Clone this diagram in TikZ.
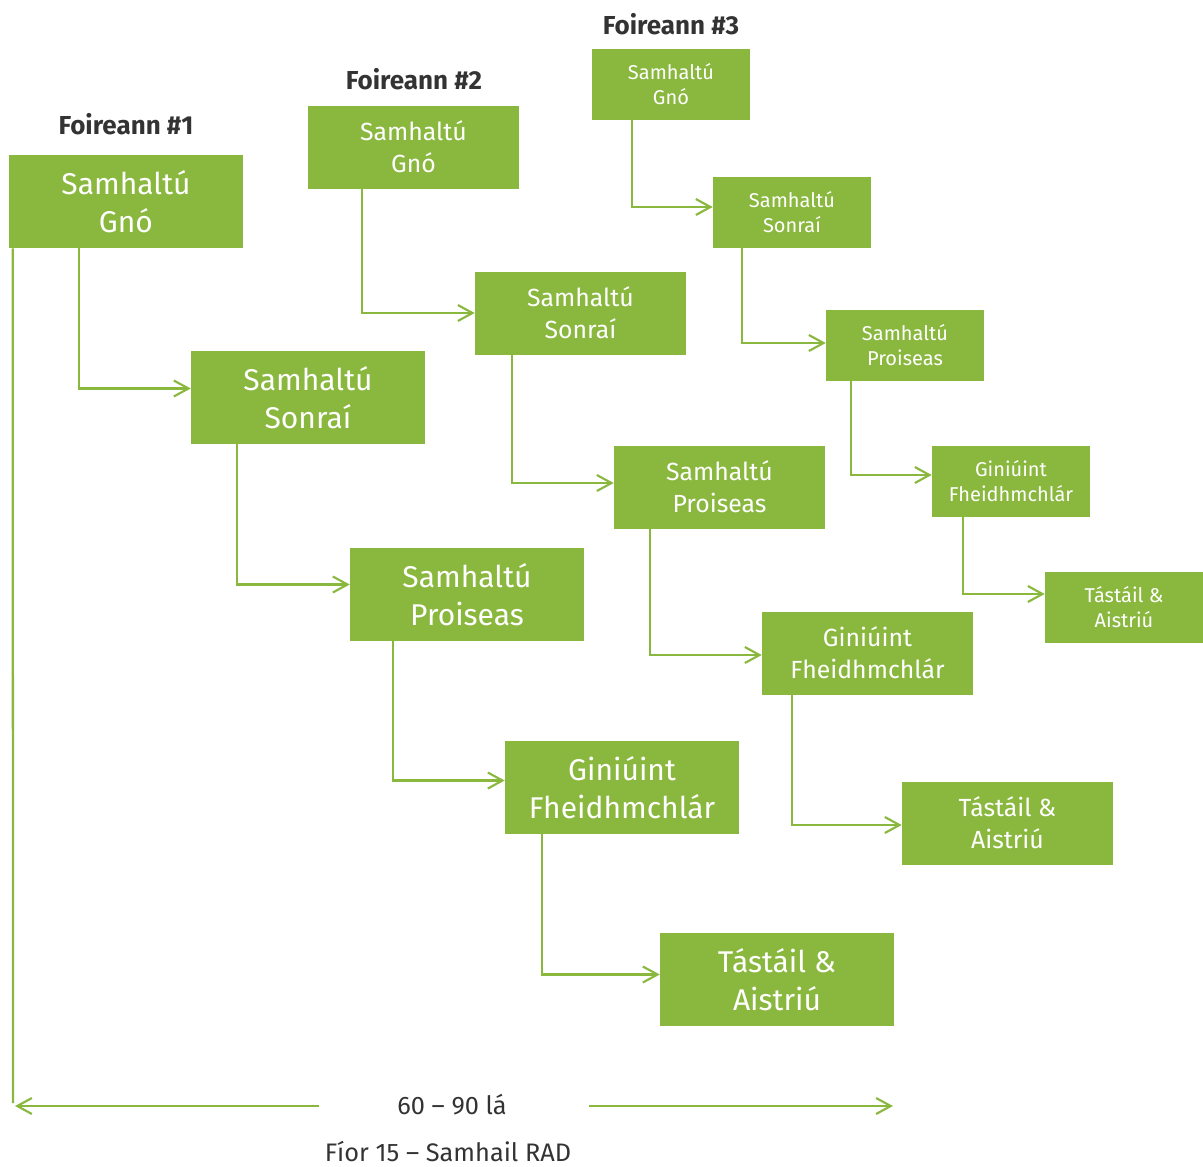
\documentclass[tikz,border=0pt]{standalone}
\usepackage{fontspec}
\setmainfont{Fira Sans}
\usetikzlibrary{calc,arrows.meta,positioning}
\definecolor{radgreen}{HTML}{8AB83F}
\definecolor{captiongray}{HTML}{333333}

\begin{document}
\begin{tikzpicture}[x=0.75pt,y=-0.75pt,
    every node/.style={inner sep=0pt, align=center},
    boxA/.style={fill=radgreen, text=white, minimum width=175.5pt, minimum height=69.75pt, font=\fontsize{22.5}{28.5}\selectfont},
    boxB/.style={fill=radgreen, text=white, minimum width=158.25pt, minimum height=62.25pt, font=\fontsize{18.6}{24}\selectfont},
    boxC/.style={fill=radgreen, text=white, minimum width=118.5pt, minimum height=53.25pt, font=\fontsize{15}{19}\selectfont},
    team/.style={font=\bfseries\fontsize{19.5}{22}\selectfont, text=captiongray},
    caption/.style={font=\fontsize{19}{22}\selectfont, text=captiongray},
    flow/.style={draw=radgreen, line width=1.7pt, -{Straight Barb[length=11pt,width=12pt,line width=1.6pt]}}]
    \useasboundingbox (0,0) rectangle (1203,1167);

    % team titles
    \node[team] (t1) at (126,124) {Foireann \#1};
    \node[team] (t2) at (414,79) {Foireann \#2};
    \node[team] (t3) at (671,24) {Foireann \#3};

    % team 1
    \node[boxA] (g1) at (126,201.5) {Samhaltú\\Gnó};
    \node[boxA] (s1) at (308,397.5) {Samhaltú\\Sonraí};
    \node[boxA] (p1) at (467,594.5) {Samhaltú\\Proiseas};
    \node[boxA] (f1) at (622,787.5) {Giniúint\\Fheidhmchlár};
    \node[boxA] (a1) at (777,979.5) {Tástáil \&\\Aistriú};

    % team 2
    \node[boxB] (g2) at (413.5,147) {Samhaltú\\Gnó};
    \node[boxB] (s2) at (580.5,313) {Samhaltú\\Sonraí};
    \node[boxB] (p2) at (719.5,487) {Samhaltú\\Proiseas};
    \node[boxB] (f2) at (867.5,653) {Giniúint\\Fheidhmchlár};
    \node[boxB] (a2) at (1007.5,823) {Tástáil \&\\Aistriú};

    % team 3
    \node[boxC] (g3) at (671,84) {Samhaltú\\Gnó};
    \node[boxC] (s3) at (792,212) {Samhaltú\\Sonraí};
    \node[boxC] (p3) at (905,345) {Samhaltú\\Proiseas};
    \node[boxC] (f3) at (1011,481) {Giniúint\\Fheidhmchlár};
    \node[boxC] (a3) at (1124,607) {Tástáil \&\\Aistriú};

    \draw[flow] ($(g1.south west)+(70,0)$) |- ($(s1.west)+(0,-9)$);
    \draw[flow] ($(s1.south west)+(46,0)$) |- ($(p1.west)+(0,-10)$);
    \draw[flow] ($(p1.south west)+(43,0)$) |- ($(f1.west)+(0,-7)$);
    \draw[flow] ($(f1.south west)+(37,0)$) |- ($(a1.west)+(0,-5)$);

    \draw[flow] ($(g2.south west)+(54,0)$) |- (s2.west);
    \draw[flow] ($(s2.south west)+(37,0)$) |- ($(p2.west)+(0,-4)$);
    \draw[flow] ($(p2.south west)+(36,0)$) |- ($(f2.west)+(0,2)$);
    \draw[flow] ($(f2.south west)+(30,0)$) |- ($(a2.west)+(0,2)$);

    \draw[flow] ($(g3.south west)+(40,0)$) |- ($(s3.west)+(0,-5)$);
    \draw[flow] ($(s3.south west)+(29,0)$) |- ($(p3.west)+(0,-2)$);
    \draw[flow] ($(p3.south west)+(25,0)$) |- ($(f3.west)+(0,-6)$);
    \draw[flow] ($(f3.south west)+(31,0)$) |- ($(a3.west)+(0,-13)$);

    % time span
    \coordinate (base) at (13,1103);
    \coordinate (left) at (15,1106);
    \coordinate (right) at (893,1106);
    \node[caption] (span) at (452,1105) {60 -- 90 lá};
    \draw[draw=radgreen, line width=1.7pt] ($(g1.south west)+(4,0)$) -- (base);
    \draw[flow] ($(span.west)+(-78,1)$) -- (left);
    \draw[flow] ($(span.east)+(82,1)$) -- (right);

    \node[caption, anchor=base] (cap) at (448,1161) {Fíor 15 -- Samhail RAD};
\end{tikzpicture}
\end{document}
